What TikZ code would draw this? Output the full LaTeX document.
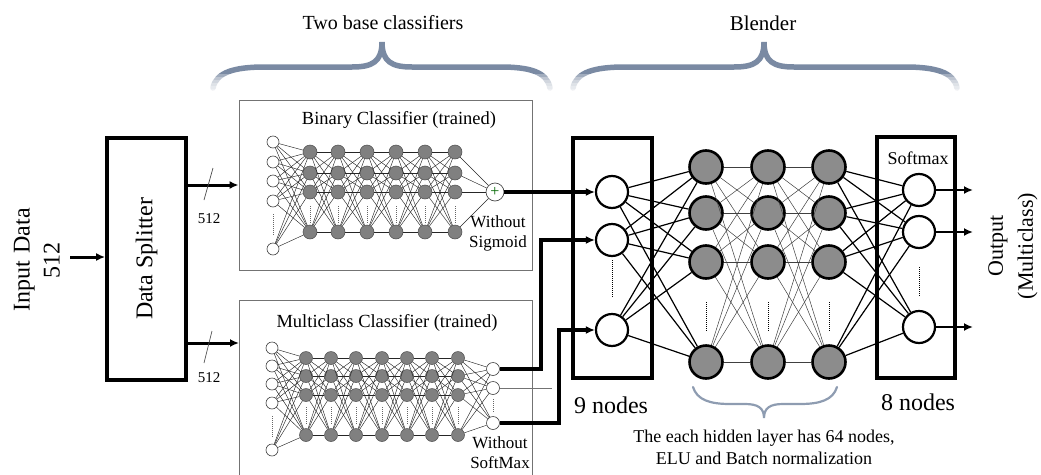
\documentclass[tikz,border=0pt]{standalone}
\usepackage{fontspec}
\setmainfont{Liberation Serif}
\usetikzlibrary{arrows.meta}
\newcommand\fsz[2]{\fontsize{#1}{#2}\selectfont}
\definecolor{bracec}{RGB}{122,138,163}
\begin{document}
\begin{tikzpicture}[x=1pt,y=-1pt,
  clsbox/.style={draw=black!55,line width=0.9,inner sep=0},
  inw/.style={circle,draw=black!75,fill=white,line width=0.6,inner sep=0,minimum size=12},
  hidg/.style={circle,draw=black!70,fill=black!50,line width=0.5,inner sep=0,minimum size=14},
  outw/.style={circle,draw=black!75,fill=white,line width=0.6,inner sep=0,minimum size=13},
  cl/.style={line width=0.45,black!85},
  dotv/.style={black!60,line width=0.8,dash pattern=on 1pt off 1pt},
  bdot/.style={black,line width=1,dash pattern=on 1pt off 1pt},
  bw/.style={circle,draw=black,fill=white,line width=2.2,inner sep=0,minimum size=32},
  bg/.style={circle,draw=black,fill=black!45,line width=2.6,inner sep=0,minimum size=33},
  thickbox/.style={draw=black,line width=3.8,inner sep=0},
  bl/.style={line width=1.2,black},
  hl/.style={line width=0.5,black!75},
  thk/.style={line width=3.4},
  arr/.style={-{Latex[length=9,width=8]}},
  brc/.style={draw=bracec,line width=5.5,line cap=round},
  brcs/.style={draw=bracec!85,line width=2.2,line cap=round},
  slash/.style={black!70,line width=0.7}
]
\useasboundingbox (0,0) rectangle (1041,474);

% ---- top braces and labels
\node[font=\fsz{20}{24}] (ttwo) at (383,23) {Two base classifiers};
\node[font=\fsz{21}{25}] (tblend) at (763,23) {Blender};
\draw[brc] (213,88) .. controls (216,72) and (235,67) .. (265,67) -- (352,67)
  .. controls (372,67) and (382,62) .. (382,42)
  .. controls (382,62) and (392,67) .. (412,67) -- (500,67)
  .. controls (530,67) and (547,72) .. (550,88);
\draw[brc] (573,88) .. controls (576,72) and (595,67) .. (625,67) -- (734,67)
  .. controls (754,67) and (764,62) .. (764,42)
  .. controls (764,62) and (774,67) .. (794,67) -- (905,67)
  .. controls (935,67) and (954,72) .. (957,88);
% fade the brace ends
\foreach \t in {74,77,80,83,86,89} \fill[white,opacity=0.3] (200,\t) rectangle (970,96);

% ---- input and splitter
\node[rotate=90,align=center,font=\fsz{24}{30}] (intext) at (37,260) {Input\,\,Data\\512};
\node[thickbox,minimum width=79,minimum height=242] (split) at (146.5,259) {};
\node[rotate=90,font=\fsz{24}{28}] (splittxt) at (split) {Data Splitter};
\coordinate (inA) at (70,257);
\draw[arr,line width=3] (inA) -- (inA -| split.west);

% ---- binary classifier box
\node[clsbox,minimum width=293,minimum height=170] (bbox) at (385.5,185) {};
\node[font=\fsz{18.5}{22}] (btitle) at (399,120) {Binary Classifier (trained)};
% ---- multiclass classifier box (open at bottom)
\coordinate (mtl) at (239,300);
\coordinate (mtr) at (532,300);
\draw[draw=black!55,line width=0.9] (239,480) -- (mtl) -- (mtr) -- (532,480);
\node[font=\fsz{18.5}{22}] (mtitle) at (387,323) {Multiclass Classifier (trained)};

% splitter outputs
\coordinate (m1) at (239,343);
\draw[arr,line width=3] (split.east |- bbox.west) -- (bbox.west);
\draw[arr,line width=3] (split.east |- m1) -- (m1);
\draw[slash] (213,168) -- (204,200);
\draw[slash] (212,331) -- (204,363);
\node[font=\fsz{15}{18}] (n512a) at (209,219) {512};
\node[font=\fsz{15}{18}] (n512b) at (209,378) {512};

% ---- binary network
\foreach \y [count=\i] in {142,162,181,201,249} \node[inw] (bi\i) at (273,\y) {};
\foreach \x [count=\c] in {310,338,367,396,425,455}
  \foreach \y [count=\r] in {152,173,192,232} \node[hidg] (bh\c-\r) at (\x,\y) {};
\node[circle,draw=black!70,fill=white,line width=0.7,inner sep=0,minimum size=18,
  font=\fsz{16}{16},text=green!40!black] (bplus) at (495,192) {+};
\foreach \i in {1,...,5} \foreach \r in {1,...,4} \draw[cl] (bi\i) -- (bh1-\r);
\foreach \c [evaluate=\c as \n using int(\c+1)] in {1,...,5}
  \foreach \r in {1,...,4} \foreach \s in {1,...,4} \draw[cl] (bh\c-\r) -- (bh\n-\s);
\foreach \r in {1,...,4} \draw[cl] (bh6-\r) -- (bplus);
\foreach \c in {1,...,6} \draw[dotv] (bh\c-3) ++(0,14) -- ++(0,17);
\draw[dotv] (bi4) ++(0,13) -- ++(0,22);
\node[align=center,font=\fsz{17}{20}] (bwo) at (498,233) {Without\\Sigmoid};

% ---- multiclass network
\foreach \y [count=\i] in {348,366,384,403,450} \node[inw] (mi\i) at (272,\y) {};
\foreach \x [count=\c] in {306,331,356,382,407,432,458}
  \foreach \y [count=\r] in {358,376,395,435} \node[hidg,minimum size=13] (mh\c-\r) at (\x,\y) {};
\foreach \y [count=\i] in {369,388,423} \node[outw] (mo\i) at (493,\y) {};
\foreach \i in {1,...,5} \foreach \r in {1,...,4} \draw[cl] (mi\i) -- (mh1-\r);
\foreach \c [evaluate=\c as \n using int(\c+1)] in {1,...,6}
  \foreach \r in {1,...,4} \foreach \s in {1,...,4} \draw[cl] (mh\c-\r) -- (mh\n-\s);
\foreach \r in {1,...,4} \foreach \o in {1,2,3} \draw[cl] (mh7-\r) -- (mo\o);
\foreach \c in {1,...,7} \draw[dotv] (mh\c-3) ++(0,12) -- ++(0,18);
\draw[dotv] (mi4) ++(0,13) -- ++(0,22);
\draw[dotv] (mo2) ++(0,11) -- ++(0,14);
\node[align=center,font=\fsz{17}{20}] (mwo) at (500,453) {Without\\SoftMax};

% ---- blender
\node[thickbox,minimum width=79,minimum height=240] (inbox) at (612.5,258) {};
\node[thickbox,minimum width=78,minimum height=241] (outbox) at (916,257.5) {};
\foreach \y [count=\i] in {192,240,330} \node[bw] (ei\i) at (612,\y) {};
\foreach \x [count=\c] in {706,768,829}
  \foreach \y [count=\r] in {167,213,262,362} \node[bg] (eh\c-\r) at (\x,\y) {};
\foreach \y [count=\i] in {190,232,327} \node[bw] (eo\i) at (919,\y) {};
\foreach \i in {1,2,3} \foreach \r in {1,...,4} \draw[bl] (ei\i) -- (eh1-\r);
\foreach \c [evaluate=\c as \n using int(\c+1)] in {1,2}
  \foreach \r in {1,...,4} \foreach \s in {1,...,4} \draw[hl] (eh\c-\r) -- (eh\n-\s);
\foreach \r in {1,...,4} \foreach \o in {1,2,3} \draw[bl] (eh3-\r) -- (eo\o);
\draw[bdot] (ei2) ++(0,20) -- ++(0,37);
\draw[bdot] (eo2) ++(0,35) -- ++(0,30);
\foreach \c in {1,2,3} \draw[bdot] (eh\c-3) ++(0,40) -- ++(0,30);
\node[font=\fsz{18}{22}] (softt) at (918,158) {Softmax};
\node[font=\fsz{24}{28}] (nine) at (611,405) {9 nodes};
\node[font=\fsz{24}{28}] (eight) at (918,402) {8 nodes};

% classifier outputs into blender
\coordinate (k2) at (541,240);
\coordinate (k3) at (559,330);
\coordinate (k0) at (552,388);
\draw[thk,arr] (bplus) -- (ei1);
\draw[thk,arr] (mo1) -| (k2) -- (ei2);
\draw[thk,arr] (mo3) -| (k3) -- (ei3);
\draw[black!55,line width=0.9] (mo2) -- (k0);

% outputs
\foreach \y [count=\i] in {190,232,327} {
  \coordinate (t\i) at (973,\y);
  \draw[arr,line width=2.8] (eo\i) -- (t\i);
}
\node[rotate=90,align=center,font=\fsz{22}{30}] (outtxt) at (1013,246) {Output\\(Multiclass)};

% bottom brace and note
\draw[brcs] (693,387) .. controls (697,400) and (710,404) .. (730,404) -- (745,404)
  .. controls (758,404) and (764,408) .. (764,418)
  .. controls (764,408) and (770,404) .. (783,404) -- (800,404)
  .. controls (820,404) and (833,400) .. (837,387);
\node[align=center,font=\fsz{18}{22}] (note) at (764,447) {The each hidden layer has 64 nodes,\\ELU and Batch normalization};
\end{tikzpicture}
\end{document}
